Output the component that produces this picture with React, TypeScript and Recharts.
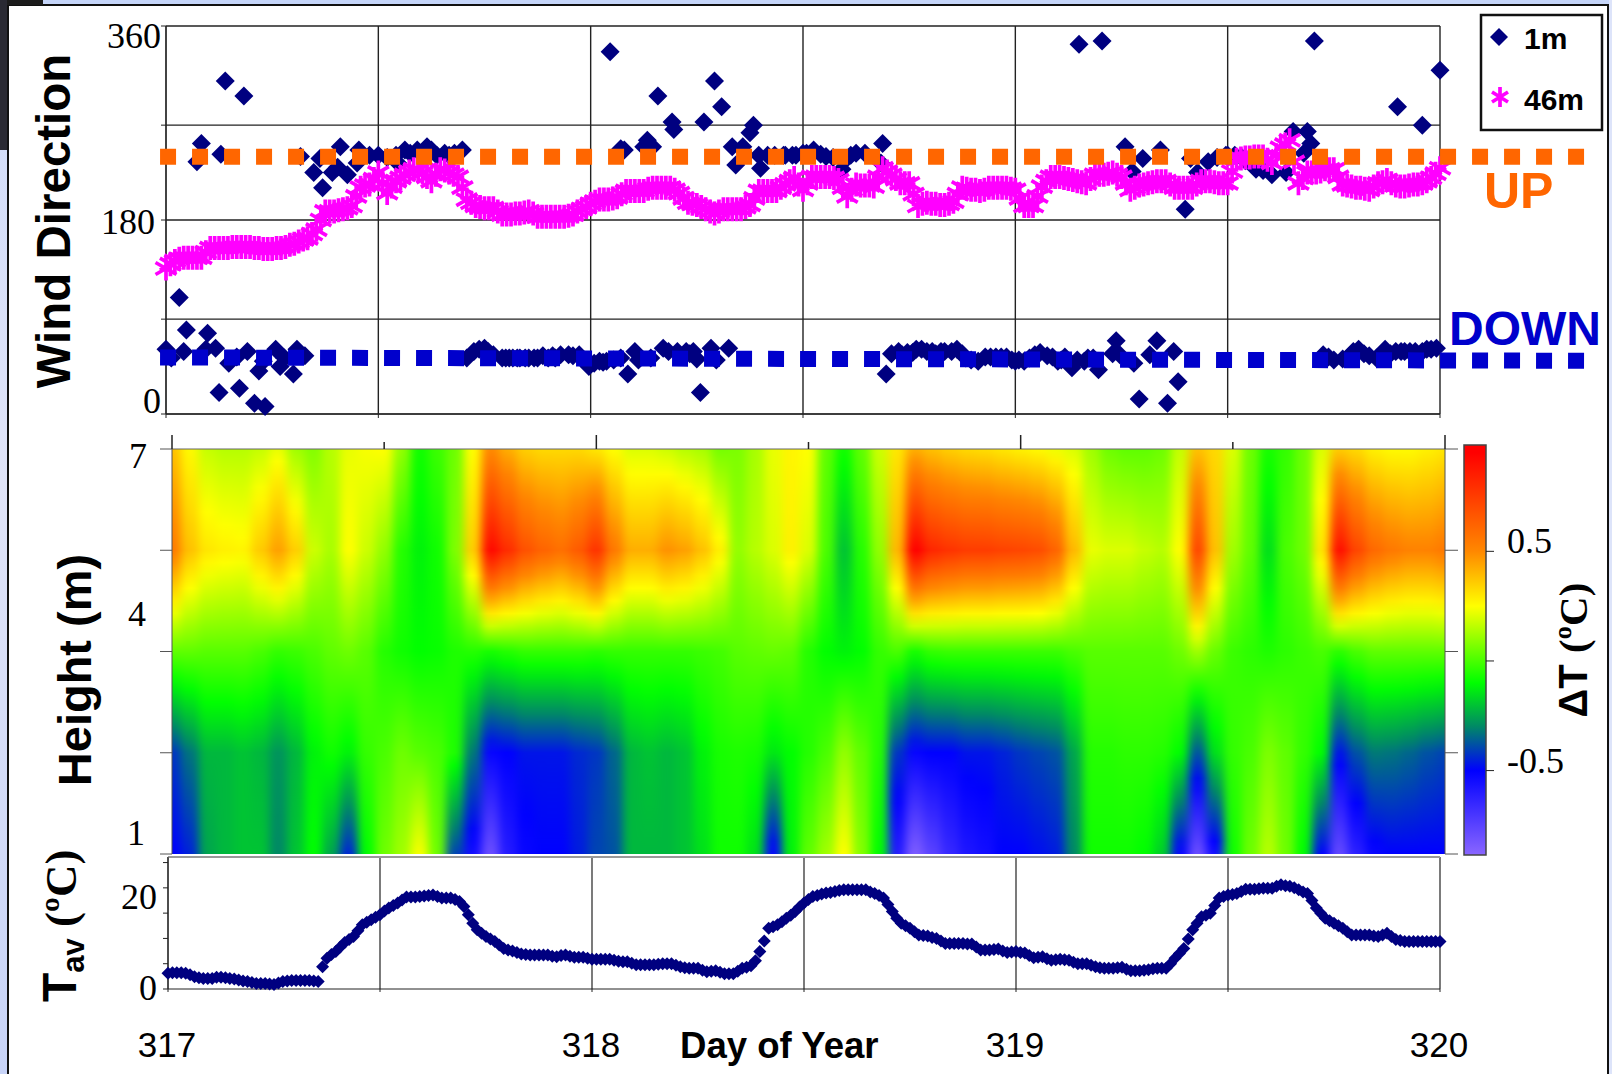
import { ReferenceArea, ReferenceLine, CartesianGrid, Scatter, ScatterChart, XAxis, YAxis } from "recharts";

const W = 1612;
const H = 1074;

// half day grid, all three panels
const dayTicks = [317, 317.5, 318, 318.5, 319, 319.5, 320];

// wind direction at 1 m: [hours since day 317, degrees]
const wind1m: [number, number][] = [
  [0, 60], [0.3, 52], [0.75, 108], [1, 58], [1.15, 78], [1.75, 234], [2, 251], [2.25, 60], [2.35, 75], [2.8, 61],
  [3, 20], [3.1, 241], [3.35, 309], [3.55, 47], [4, 53], [4.15, 24], [4.4, 295], [4.6, 58], [5, 10], [5.25, 40],
  [5.5, 49], [5.6, 7], [6.2, 60], [6.45, 44], [6.7, 52], [7.2, 37], [7.4, 60], [7.6, 239], [7.85, 54], [8.35, 224],
  [8.7, 237], [8.85, 210], [9.4, 224], [9.7, 229], [9.85, 248], [10.25, 222], [10.8, 233], [10.9, 245], [11.5, 240],
  [12, 240], [12.5, 238], [13, 240], [13.1, 233], [13.5, 245], [13.8, 242], [14.2, 245], [14.75, 248], [15, 245],
  [15.3, 240], [15.75, 242], [16, 240], [16.3, 242], [16.75, 245], [17, 52], [17.4, 58], [17.7, 60], [18, 61],
  [18.2, 58], [18.5, 55], [19, 52], [19.2, 52], [19.4, 52], [19.6, 52], [19.85, 52], [20, 52], [20.3, 52], [20.5, 52],
  [20.8, 52], [21, 52], [21.3, 54], [21.6, 52], [21.85, 54], [22, 52], [22.3, 55], [22.75, 55], [23, 54], [23.35, 55],
  [23.6, 50], [23.9, 44], [24.2, 47], [24.5, 49], [24.7, 48], [24.9, 49], [25.1, 336], [25.3, 50], [25.7, 246],
  [25.7, 52], [25.9, 245], [26.1, 37], [26.5, 58], [26.7, 50], [27, 248], [27.2, 254], [27.4, 52], [27.5, 248],
  [27.8, 295], [28.1, 61], [28.4, 58], [28.6, 271], [28.7, 264], [28.9, 58], [29.1, 54], [29.4, 58], [29.6, 56],
  [29.8, 58], [30, 51], [30.2, 20], [30.4, 271], [30.8, 61], [31, 309], [31.1, 50], [31.4, 285], [31.8, 61], [32, 248],
  [32.2, 231], [32.6, 248], [33, 261], [33.2, 268], [33.5, 240], [33.6, 228], [34, 240], [34.4, 240], [34.9, 240],
  [35, 240], [35.4, 240], [35.6, 240], [36, 242], [36.2, 242], [36.6, 245], [37, 241], [37.3, 239], [37.7, 238],
  [38.2, 227], [38.4, 236], [38.7, 240], [39, 242], [39.5, 242], [40.4, 233], [40.5, 251], [40.7, 37], [41, 56],
  [41.4, 58], [41.6, 55], [41.9, 57], [42.2, 57], [42.4, 60], [42.7, 60], [43, 58], [43.3, 58], [43.5, 56], [43.8, 58],
  [44, 58], [44.4, 58], [44.7, 60], [45, 56], [45.2, 52], [45.5, 50], [45.9, 49], [46.3, 53], [46.6, 53], [46.9, 53],
  [47.2, 53], [47.5, 53], [47.8, 50], [48, 49], [48.2, 50], [48.5, 49], [48.8, 52], [49.1, 55], [49.4, 57], [49.8, 54],
  [50.1, 53], [50.4, 49], [50.6, 50], [50.8, 53], [51.2, 43], [51.5, 50], [51.6, 343], [51.9, 49], [52.1, 52],
  [52.4, 52], [52.7, 41], [52.9, 346], [53.5, 56], [53.7, 68], [53.9, 55], [54.2, 248], [54.6, 225], [54.7, 47], [55, 14],
  [55.2, 237], [55.6, 55], [56, 68], [56.2, 245], [56.6, 10], [56.95, 58], [57.2, 30], [57.6, 190], [57.9, 237],
  [58.3, 224], [58.9, 234], [59.4, 238], [59.9, 240], [60, 240], [60.4, 240], [60.8, 238], [61, 235], [61.6, 227],
  [62, 226], [62.5, 222], [63.3, 224], [63.7, 262], [64.3, 242], [64.5, 262], [64.7, 251], [64.9, 346], [65.4, 55],
  [65.7, 53], [66, 50], [66.5, 51], [66.9, 54], [67.1, 58], [67.4, 60], [67.7, 56], [68, 54], [68.4, 52], [68.7, 56],
  [68.9, 60], [69.2, 56], [69.5, 58], [69.6, 285], [69.8, 58], [70, 58], [70.3, 58], [70.6, 58], [71, 58], [71, 268],
  [71.25, 60], [71.5, 60], [71.8, 61], [72, 319],
];

// wind direction at 46 m, roughly every quarter hour
const wind46m = [
  135, 139, 142, 144, 145, 145, 145, 145, 145, 150, 154, 154, 154, 154, 154, 155, 155, 155, 155, 155, 154, 154, 153, 153,
  153, 154, 154, 155, 157, 158, 160, 162, 163, 167, 171, 180, 188, 188, 188, 189, 190, 191, 193, 202, 210, 212, 213, 218,
  224, 214, 205, 211, 216, 219, 222, 225, 227, 226, 224, 220, 216, 222, 227, 226, 224, 222, 220, 210, 199, 196, 193, 192,
  191, 191, 191, 188, 185, 185, 185, 186, 186, 187, 188, 186, 183, 183, 183, 183, 183, 183, 183, 184, 185, 188, 190, 192,
  195, 197, 199, 199, 199, 200, 201, 204, 207, 207, 207, 207, 207, 209, 210, 210, 210, 210, 210, 208, 205, 200, 196, 195,
  194, 192, 190, 188, 186, 188, 190, 190, 190, 190, 190, 192, 194, 200, 207, 207, 207, 207, 207, 210, 213, 216, 219, 213,
  208, 214, 220, 220, 220, 220, 220, 219, 217, 210, 202, 208, 213, 212, 212, 212, 211, 220, 228, 225, 222, 218, 214, 214,
  214, 204, 193, 195, 196, 195, 195, 194, 194, 195, 197, 204, 210, 209, 208, 208, 207, 208, 210, 210, 210, 210, 210, 209,
  208, 200, 193, 193, 193, 202, 211, 216, 220, 220, 220, 219, 218, 217, 216, 215, 214, 218, 222, 222, 222, 223, 224, 222,
  220, 214, 208, 210, 212, 213, 214, 215, 216, 216, 216, 213, 210, 210, 210, 210, 210, 213, 216, 216, 216, 215, 214, 214,
  214, 225, 236, 237, 238, 238, 239, 239, 239, 236, 233, 240, 247, 250, 254, 234, 214, 219, 224, 224, 224, 225, 227, 227,
  227, 220, 213, 212, 211, 210, 210, 209, 208, 211, 214, 215, 217, 214, 212, 211, 211, 212, 213, 213, 214, 216, 219, 223, 228,
];

// average temperature, roughly every quarter hour
const tempAvg = [
  3.1, 3.2, 3.2, 3.2, 3.1, 2.8, 2.4, 2.2, 2.1, 2.1, 2.1, 2.3, 2.3, 2.2, 2.1, 2, 1.8, 1.6, 1.5, 1.3, 1.1, 1.1, 1.1, 1, 0.9,
  1.2, 1.5, 1.6, 1.7, 1.7, 1.7, 1.7, 1.7, 1.6, 1.5, 4.4, 6.1, 6.8, 7.4, 8.3, 9.2, 9.8, 10.4, 11.5, 12.7, 13.2, 13.7, 14.2,
  14.7, 15.4, 16, 16.5, 17, 17.6, 18.2, 18.2, 18.2, 18.3, 18.4, 18.5, 18.6, 18.3, 18, 18, 18, 17.7, 17.3, 16.3, 14.7, 13,
  11.7, 11, 10.4, 9.9, 9.4, 8.7, 8, 7.7, 7.5, 7.2, 6.9, 6.8, 6.7, 6.7, 6.7, 6.7, 6.7, 6.5, 6.4, 6.6, 6.7, 6.5, 6.3, 6.3, 6.3,
  6.1, 5.9, 5.9, 5.9, 5.9, 5.9, 5.7, 5.5, 5.4, 5.4, 5.1, 4.8, 4.8, 4.8, 4.8, 4.8, 4.9, 5, 5, 5, 4.7, 4.4, 4.2, 4.1, 4.1, 4.1,
  3.7, 3.4, 3.5, 3.6, 3.3, 3, 3, 3, 3.5, 4.1, 4.3, 4.6, 5.6, 7.4, 9.5, 12, 12.3, 12.7, 13.3, 14, 14.6, 15.3, 16.2, 17, 17.7,
  18.3, 18.5, 18.8, 19, 19.1, 19.3, 19.5, 19.6, 19.6, 19.6, 19.6, 19.6, 19.6, 19.2, 18.9, 18.5, 18, 16.7, 15.3, 14, 13, 12.5,
  12, 11.3, 10.7, 10.6, 10.5, 10.2, 10, 9.5, 9, 9, 9, 9, 9, 8.9, 8.9, 8.3, 7.7, 7.7, 7.7, 7.8, 7.9, 7.5, 7.2, 7.3, 7.4, 7.2,
  7.1, 6.6, 6.2, 6.3, 6.4, 6, 5.7, 5.8, 5.9, 5.8, 5.7, 5.3, 5, 5, 5, 4.7, 4.4, 4.2, 4.1, 4.1, 4.1, 4.2, 4.3, 3.9, 3.6, 3.6,
  3.6, 3.7, 3.8, 4, 4.1, 4.1, 4.1, 5, 6.1, 7, 8, 9.9, 11.7, 13, 14.3, 14.6, 15, 16.5, 18, 18.3, 18.6, 18.7, 18.9, 19.3, 19.7,
  19.7, 19.7, 19.8, 19.9, 19.9, 19.9, 20.3, 20.6, 20.4, 20.3, 20, 19.6, 19.2, 18.9, 17.5, 16, 15, 14, 13.5, 13, 12.5, 12,
  11.3, 10.7, 10.7, 10.7, 10.7, 10.7, 10.5, 10.4, 10.7, 11, 10.4, 9.8, 9.6, 9.4, 9.4, 9.4, 9.4, 9.4, 9.4, 9.4, 9.4, 9.4,
];

// temperature difference, one value per hour at each measured height
const dT7 = [
  0.38, 0.26, 0.17, 0.15, 0.15, 0.17, 0.22, 0.12, 0.08, 0.15, 0.22, 0.24, 0.25, 0.1, -0.08, -0.02, 0.05, 0.25, 0.5, 0.42, 0.35, 0.33, 0.33, 0.33,
  0.3, 0.25, 0.2, 0.2, 0.18, 0.15, 0.13, 0.06, 0.07, 0.13, 0.22, 0.27, 0.25, 0.03, -0.08, 0.03, 0.18, 0.3, 0.42, 0.38, 0.35, 0.33, 0.32, 0.3,
  0.28, 0.26, 0.23, 0.2, 0.12, 0.05, 0.03, 0.03, 0.05, 0.17, 0.38, 0.33, 0.2, 0.05, -0.07, -0.03, 0.05, 0.2, 0.36, 0.33, 0.28, 0.26, 0.26, 0.28, 0.3,
];
const dT55 = [
  0.55, 0.38, 0.3, 0.28, 0.27, 0.36, 0.45, 0.35, 0.18, 0.13, 0.25, 0.18, 0.1, -0.05, -0.12, -0.08, 0.07, 0.35, 0.92, 0.8, 0.68, 0.62, 0.58, 0.65,
  0.78, 0.55, 0.42, 0.42, 0.48, 0.45, 0.38, 0.28, 0.1, 0.15, 0.2, 0.28, 0.2, 0, -0.2, -0.05, 0.1, 0.4, 0.95, 0.82, 0.78, 0.75, 0.75, 0.73,
  0.72, 0.7, 0.62, 0.4, 0.22, 0.2, 0.2, 0.17, 0.15, 0.25, 0.72, 0.38, 0.12, 0.03, -0.15, 0, 0.05, 0.3, 0.9, 0.72, 0.6, 0.55, 0.52, 0.52, 0.55,
];
const dT4 = [
  0.03, 0.03, 0.02, 0.02, 0.02, 0, -0.03, -0.02, 0, 0.03, 0.05, 0.02, -0.05, -0.08, -0.1, -0.09, -0.06, -0.05, -0.07, -0.05, -0.03, -0.03, -0.03, -0.03,
  -0.04, -0.03, -0.03, -0.03, -0.03, -0.03, -0.02, -0.01, 0.02, 0.03, 0.04, 0.03, -0.05, -0.1, -0.12, -0.1, -0.03, 0, -0.07, -0.03, -0.02, -0.02, -0.02, -0.02,
  -0.02, -0.02, -0.02, 0, 0.02, 0.02, 0.02, 0.02, 0.02, 0.05, 0.12, 0.04, -0.02, -0.04, -0.06, -0.04, -0.02, 0, -0.04, 0, 0.03, 0.03, 0.03, 0.03, 0.03,
];
const dT25 = [
  -0.42, -0.33, -0.22, -0.22, -0.2, -0.22, -0.28, -0.22, -0.12, -0.08, -0.12, -0.03, 0, 0.05, 0.02, 0, -0.06, -0.32, -0.52, -0.5, -0.47, -0.47, -0.47, -0.44,
  -0.42, -0.35, -0.22, -0.2, -0.22, -0.2, -0.12, -0.07, -0.06, -0.07, -0.14, -0.1, -0.05, 0, 0.1, 0.03, -0.05, -0.42, -0.52, -0.5, -0.5, -0.47, -0.47, -0.45,
  -0.42, -0.4, -0.38, -0.25, -0.05, -0.05, -0.04, -0.04, -0.05, -0.1, -0.38, -0.15, -0.03, 0, 0.07, 0.03, -0.03, -0.1, -0.47, -0.38, -0.32, -0.33, -0.35, -0.38, -0.4,
];
const dT1 = [
  -0.5, -0.45, -0.25, -0.22, -0.2, -0.2, -0.3, -0.2, -0.1, -0.25, -0.45, -0.1, 0.05, 0.12, 0.24, 0.05, -0.4, -0.55, -0.8, -0.6, -0.52, -0.5, -0.5, -0.46,
  -0.4, -0.38, -0.22, -0.22, -0.22, -0.2, -0.15, -0.08, -0.08, -0.15, -0.52, -0.12, 0.03, 0.12, 0.25, 0.08, -0.1, -0.6, -0.85, -0.75, -0.65, -0.58, -0.55, -0.5,
  -0.5, -0.48, -0.46, -0.3, -0.08, -0.08, -0.08, -0.1, -0.18, -0.52, -0.8, -0.55, -0.08, 0.05, 0.15, 0.05, -0.1, -0.5, -0.78, -0.62, -0.52, -0.5, -0.5, -0.5, -0.5,
];
const heatRows = [dT7, dT55, dT4, dT25, dT1];

// colour ramp
const rampStops: [number, number[]][] = [
  [-0.885, [138, 102, 255]],
  [-0.5, [0, 0, 255]],
  [-0.3, [0, 136, 102]],
  [-0.1, [0, 255, 0]],
  [0.25, [255, 255, 0]],
  [0.5, [255, 136, 0]],
  [0.95, [255, 0, 0]],
];

function rampColor(v: number) {
  if (v <= rampStops[0][0]) return `rgb(${rampStops[0][1].join(",")})`;
  for (let i = 1; i < rampStops.length; i++) {
    const [v1, c1] = rampStops[i];
    if (v <= v1) {
      const [v0, c0] = rampStops[i - 1];
      const t = (v - v0) / (v1 - v0);
      return `rgb(${c0.map((c, k) => Math.round(c + (c1[k] - c) * t)).join(",")})`;
    }
  }
  return "rgb(255,0,0)";
}

const toDay = (hours: number) => 317 + hours / 24;
const wind1mData = wind1m.map(([h, deg]) => ({ day: toDay(h), deg }));
const wind46mData = wind46m.map((deg, i) => ({ day: 317 + (3 * i) / (wind46m.length - 1), deg }));
const tempData = tempAvg.map((t, i) => ({ day: 317 + (3 * i) / (tempAvg.length - 1), t }));
const hours = dT7.map((_, i) => i);
const heatProbe = hours.map((h) => ({ day: toDay(h), z: 4 }));

const serif = "'Liberation Serif', serif";
const sans = "'Liberation Sans', Arial, sans-serif";
const NAVY = "#000080";
const MAGENTA = "#FF00FF";
const ORANGE = "#FF6600";
const BLUE = "#0000CC";
const LINE = "#222";

const NoMark = () => <g />;

function diamond(r: number) {
  return (p: any) => (
    <polygon
      points={`${p.cx},${p.cy - r} ${p.cx + r},${p.cy} ${p.cx},${p.cy + r} ${p.cx - r},${p.cy}`}
      fill={NAVY}
    />
  );
}

function Star({ cx, cy, small }: any) {
  const a = small ? 10 : 12;
  const b = small ? 8 : 10.5;
  const c = small ? 5 : 6;
  return (
    <path
      d={`M${cx},${cy - a}V${cy + a}M${cx - b},${cy - c}L${cx + b},${cy + c}M${cx - b},${cy + c}L${cx + b},${cy - c}`}
      stroke={MAGENTA}
      strokeWidth={3.7}
      fill="none"
    />
  );
}

// labels: tick value -> [dx, dy]
function numTick(labels: Record<number, number[]>, size = 36) {
  return ({ x, y, payload }: any) => {
    const off = labels[payload.value];
    if (!off) return <g />;
    return (
      <text x={x - 4 + off[0]} y={y + off[1]} textAnchor="end" dominantBaseline="central" fontFamily={serif} fontSize={size} fill="#000">
        {payload.value}
      </text>
    );
  };
}

function DayLabel({ x, payload }: any) {
  if (!Number.isInteger(payload.value)) return <g />;
  return (
    <text x={x - 1} y={1057} textAnchor="middle" fontFamily={sans} fontSize={35} fill="#000">
      {payload.value}
    </text>
  );
}

function HeatTopTick({ x, y, payload }: any) {
  const len = Number.isInteger(payload.value) ? 14 : 7;
  return <line x1={x} x2={x} y1={y} y2={y - len} stroke={LINE} strokeWidth={1.5} />;
}

function BarTick({ x, y, payload }: any) {
  if (payload.value === 0) return <g />;
  return (
    <text x={x + 11} y={y - 10} dominantBaseline="central" fontFamily={serif} fontSize={36} fill="#000">
      {payload.value}
    </text>
  );
}

const layer = { position: "absolute", left: 0, top: 0 } as const;

function HeatColumns() {
  const pad = 40;
  const plotW = 1273;
  const pxPerDay = plotW / 3;
  return (
    <div style={{ position: "absolute", left: 172, top: 449, width: plotW, height: 405, overflow: "hidden" }}>
      <div style={{ position: "absolute", left: -pad, top: 0, filter: "url(#heatBlur)" }}>
        <ScatterChart width={plotW + 2 * pad} height={405} margin={{ top: 0, right: 0, bottom: 0, left: 0 }}>
          <XAxis type="number" dataKey="day" hide domain={[317 - pad / pxPerDay, 320 + pad / pxPerDay]} />
          <YAxis type="number" dataKey="z" hide domain={[1, 7]} />
          <Scatter data={heatProbe} isAnimationActive={false} shape={NoMark} />
          {hours.map((h) => (
            <ReferenceArea
              key={h}
              x1={h === 0 ? 317 - pad / pxPerDay : toDay(h - 0.5)}
              x2={h === 72 ? 320 + pad / pxPerDay : toDay(h + 0.56)}
              y1={1}
              y2={7}
              fill={`url(#heatCol${h})`}
              fillOpacity={1}
              stroke="none"
            />
          ))}
        </ScatterChart>
      </div>
    </div>
  );
}

function GradientDefs() {
  const sub = 8;
  return (
    <svg width={0} height={0} style={{ position: "absolute" }}>
      <defs>
        <filter id="heatBlur" x="-5%" y="0%" width="110%" height="100%" colorInterpolationFilters="sRGB">
          <feGaussianBlur stdDeviation="5 0" />
        </filter>
        <linearGradient id="barGrad" x1="0" y1="0" x2="0" y2="1">
          {[...rampStops].reverse().map(([v]) => (
            <stop key={v} offset={(0.985 - v) / 1.87} stopColor={rampColor(v)} />
          ))}
        </linearGradient>
        {hours.map((h) => (
          <linearGradient key={h} id={`heatCol${h}`} x1="0" y1="0" x2="0" y2="1">
            {heatRows.slice(0, -1).flatMap((row, r) =>
              Array.from({ length: sub + 1 }, (_, s) => {
                const v = row[h] + ((heatRows[r + 1][h] - row[h]) * s) / sub;
                return <stop key={`${r}-${s}`} offset={(r + s / sub) / 4} stopColor={rampColor(v)} />;
              })
            )}
          </linearGradient>
        ))}
      </defs>
    </svg>
  );
}

function Frame() {
  return (
    <>
      <div style={{ position: "absolute", left: 0, top: 0, width: W, height: 4, background: "#C5D5F9" }} />
      <div
        style={{
          position: "absolute",
          left: 0,
          top: 0,
          width: 7,
          height: H,
          background: "linear-gradient(#CFDBF9, #E0E4F8 45%, #C8D4F8)",
        }}
      />
      <div style={{ position: "absolute", left: 1609, top: 0, width: 3, height: H, background: "#DDE4FA" }} />
      <div style={{ position: "absolute", left: 7, top: 4, width: 1602, height: 2, background: "#111" }} />
      <div style={{ position: "absolute", left: 7, top: 4, width: 2, height: H - 4, background: "#111" }} />
      <div style={{ position: "absolute", left: 1607, top: 4, width: 2, height: H - 4, background: "#111" }} />
      <div style={{ position: "absolute", left: 0, top: 0, width: 43, height: 5, background: "#1c1c1c" }} />
      <div style={{ position: "absolute", left: 0, top: 0, width: 7, height: 150, background: "#2a2a33" }} />
    </>
  );
}

function Annotations() {
  return (
    <svg width={W} height={H} style={layer}>
      <text transform="translate(70,221) rotate(-90)" textAnchor="middle" fontFamily={sans} fontWeight="bold" fontSize={47.5}>
        Wind Direction
      </text>
      <text transform="translate(91,670) rotate(-90)" textAnchor="middle" fontFamily={sans} fontWeight="bold" fontSize={47}>
        Height (m)
      </text>
      <text transform="translate(76,1002) rotate(-90)" fontWeight="bold" style={{ fontFamily: sans, fontSize: 48 }}>
        T
        <tspan dy={8} style={{ fontSize: 31 }}>av</tspan>
        <tspan dy={-8} style={{ fontFamily: serif, fontSize: 45 }}> (ºC)</tspan>
      </text>
      <text transform="translate(1587,650) rotate(-90)" textAnchor="middle" fontWeight="bold" style={{ fontFamily: serif, fontSize: 41 }}>
        <tspan style={{ fontFamily: sans, fontSize: 40 }}>ΔT </tspan>
        (ºC)
      </text>
      <text x={680} y={1058} fontFamily={sans} fontWeight="bold" fontSize={36.6}>
        Day of Year
      </text>
      <text x={1484} y={208} fontFamily={sans} fontWeight="bold" fontSize={50} fill={ORANGE}>
        UP
      </text>
      <text x={1449} y={345} fontFamily={sans} fontWeight="bold" fontSize={48} fill={BLUE}>
        DOWN
      </text>
      <rect x={1481} y={15} width={121} height={115} fill="#fff" stroke="#111" strokeWidth={2.5} />
      {diamond(9)({ cx: 1499, cy: 37 })}
      <Star cx={1500} cy={97} small />
      <text x={1524} y={49} fontFamily={sans} fontWeight="bold" fontSize={30}>
        1m
      </text>
      <text x={1524} y={110} fontFamily={sans} fontWeight="bold" fontSize={30}>
        46m
      </text>
    </svg>
  );
}

function WindPanel() {
  return (
    <ScatterChart style={layer} width={W} height={H} margin={{ top: 26, right: W - 1440, bottom: H - 415, left: 106 }}>
      <CartesianGrid stroke={LINE} strokeWidth={1.4} />
      <XAxis type="number" dataKey="day" domain={[317, 320]} ticks={dayTicks} tick={NoMark} tickSize={4} height={1} stroke={LINE} interval={0} />
      <YAxis
        type="number"
        dataKey="deg"
        width={60}
        domain={[0, 360]}
        ticks={[0, 88, 180, 268, 360]}
        tick={numTick({ 0: [6, -13], 180: [0, 2], 360: [6, 10] })}
        tickSize={5}
        stroke={LINE}
        interval={0}
      />
      <Scatter data={wind1mData} isAnimationActive={false} shape={diamond(9.5)} />
      <Scatter data={wind46mData} isAnimationActive={false} shape={Star} />
    </ScatterChart>
  );
}

// the two dotted reference levels sit above every marker
function DirectionLevels() {
  return (
    <ScatterChart style={layer} width={W} height={H} margin={{ top: 26, right: W - 1440, bottom: H - 414, left: 166 }}>
      <XAxis type="number" dataKey="day" hide domain={[317, 320]} />
      <YAxis type="number" dataKey="deg" hide domain={[0, 360]} />
      <Scatter data={wind1mData.slice(0, 1)} isAnimationActive={false} shape={NoMark} />
      <ReferenceLine
        ifOverflow="visible"
        segment={[{ x: 316.986, y: 52.5 }, { x: 320.34, y: 49.4 }]}
        stroke={BLUE}
        strokeWidth={16}
        strokeDasharray="16 16"
      />
      <ReferenceLine
        ifOverflow="visible"
        segment={[{ x: 316.986, y: 238.7 }, { x: 320.34, y: 238.7 }]}
        stroke={ORANGE}
        strokeWidth={16}
        strokeDasharray="16 16"
      />
    </ScatterChart>
  );
}

function HeatAxes() {
  return (
    <ScatterChart style={layer} width={W} height={H} margin={{ top: 448, right: W - 1446, bottom: H - 854, left: 112 }}>
      <XAxis type="number" dataKey="day" orientation="top" domain={[317, 320]} ticks={dayTicks} tick={HeatTopTick} tickLine={false} tickSize={0} tickMargin={0} height={1} stroke="#666" interval={0} />
      <YAxis
        type="number"
        dataKey="z"
        width={60}
        domain={[1, 7]}
        ticks={[1, 2.5, 4, 5.5, 7]}
        tick={numTick({ 1: [-9, -21], 4: [-8, -38], 7: [-7, 7] })}
        tickSize={12}
        stroke="#555"
        interval={0}
      />
      <YAxis
        type="number"
        dataKey="z"
        yAxisId="right"
        orientation="right"
        width={1}
        domain={[1, 7]}
        ticks={[1, 2.5, 4, 5.5, 7]}
        tick={NoMark}
        tickSize={13}
        stroke="#555"
        interval={0}
      />
      <Scatter data={heatProbe} isAnimationActive={false} shape={NoMark} />
      <Scatter data={heatProbe} yAxisId="right" isAnimationActive={false} shape={NoMark} />
    </ScatterChart>
  );
}

function ColorBar() {
  return (
    <ScatterChart style={layer} width={W} height={H} margin={{ top: 445, right: W - 1486 - 60, bottom: H - 855, left: 1464 }}>
      <XAxis type="number" dataKey="u" hide domain={[0, 1]} />
      <YAxis type="number" dataKey="v" orientation="right" width={60} domain={[-0.885, 0.985]} ticks={[-0.5, 0, 0.5]} tick={BarTick} tickSize={8} axisLine={false} stroke={LINE} interval={0} />
      <Scatter data={[{ u: 0.5, v: 0 }]} isAnimationActive={false} shape={NoMark} />
      <ReferenceArea x1={0} x2={1} y1={-0.885} y2={0.985} fill="url(#barGrad)" fillOpacity={1} stroke="#444" strokeWidth={1.5} />
    </ScatterChart>
  );
}

function TempPanel() {
  return (
    <ScatterChart style={layer} width={W} height={H} margin={{ top: 857, right: W - 1440, bottom: H - 990, left: 108 }}>
      <CartesianGrid stroke={LINE} strokeWidth={1.2} horizontal={false} />
      <XAxis type="number" dataKey="day" domain={[317, 320]} ticks={dayTicks} tick={DayLabel} tickSize={3} height={1} stroke={LINE} interval={0} />
      <YAxis
        type="number"
        dataKey="t"
        width={60}
        domain={[0, 26.1]}
        ticks={[0, 5, 10, 15, 20, 25]}
        tick={numTick({ 0: [0, -1], 20: [0, 9] })}
        tickSize={5}
        stroke={LINE}
        interval={0}
      />
      <ReferenceLine y={26.1} stroke="#999" strokeWidth={2} />
      <Scatter data={tempData} isAnimationActive={false} shape={diamond(6.5)} />
    </ScatterChart>
  );
}

export default function App() {
  return (
    <div style={{ position: "absolute", left: 0, top: 0, width: W, height: H, background: "#fff", overflow: "hidden" }}>
      <GradientDefs />
      <Frame />
      <Annotations />
      <WindPanel />
      <DirectionLevels />
      <HeatColumns />
      <HeatAxes />
      <ColorBar />
      <TempPanel />
    </div>
  );
}
